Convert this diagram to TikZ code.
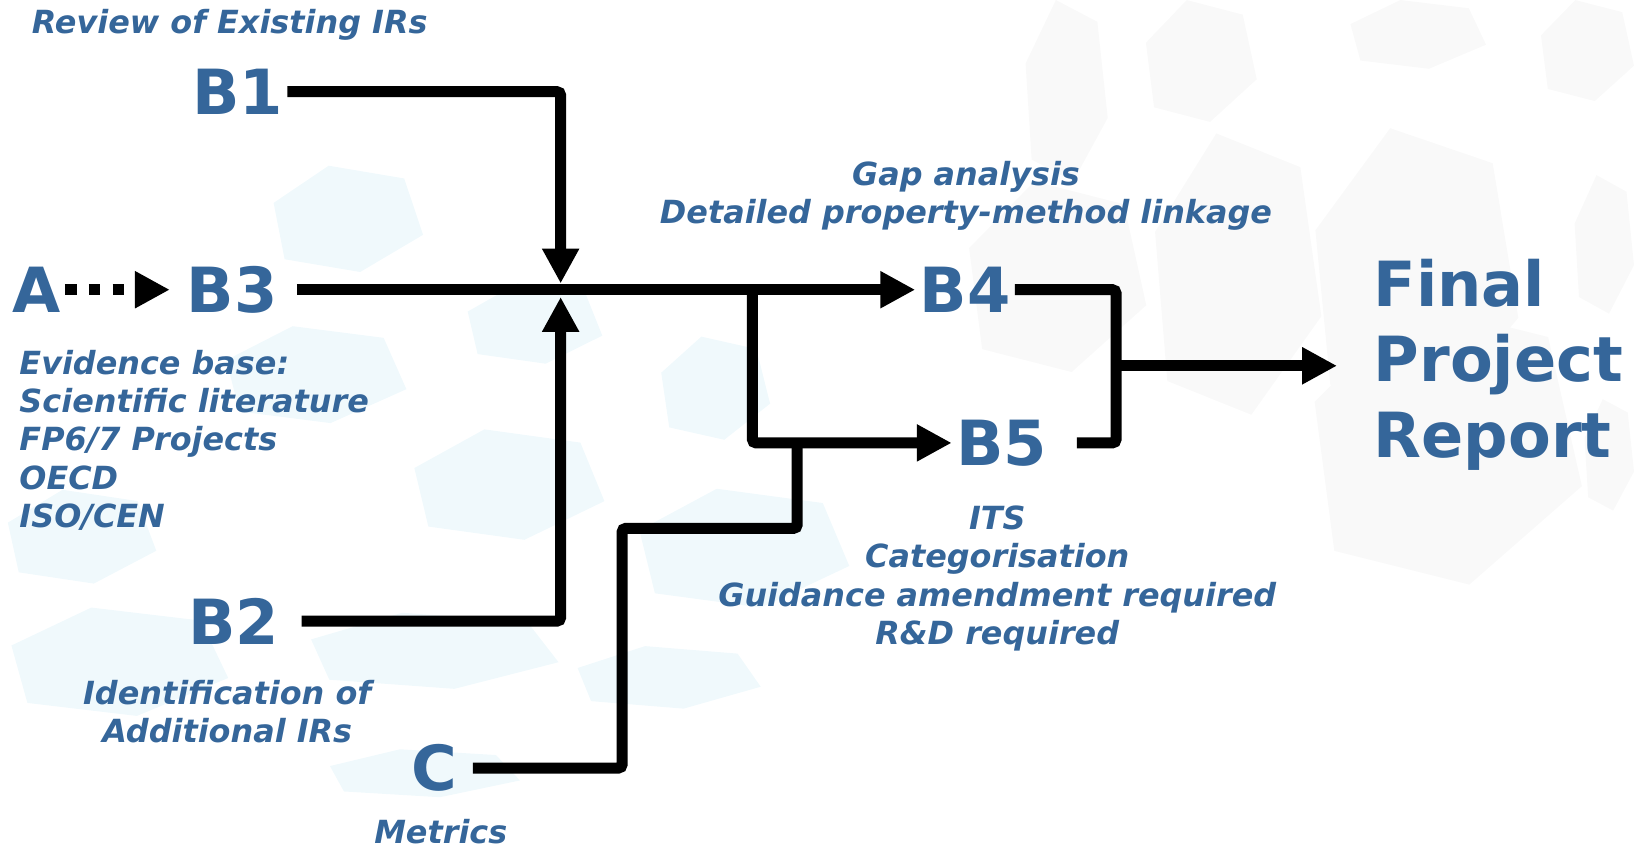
\documentclass[tikz,border=0pt]{standalone}
\usepackage{fontspec}
\setmainfont{DejaVu Sans}
\usetikzlibrary{arrows.meta}
\definecolor{irblue}{RGB}{53,102,154}
\definecolor{hexblue}{RGB}{240,249,252}
\definecolor{hexgrey}{RGB}{249,249,249}

\begin{document}
\begin{tikzpicture}[x=0.1mm, y=-0.1mm,
  big/.style={text=irblue, font=\fontsize{17}{20.6}\selectfont\bfseries, inner sep=1pt},
  lbl/.style={text=irblue, font=\fontsize{8.7}{10.5}\selectfont\bfseries\itshape, inner sep=0pt},
  ln/.style={line width=3pt, rounded corners=1pt},
  arr/.style={ln, -{Triangle[length=9.5pt, width=9.5pt]}},
  dotarr/.style={arr, dash pattern=on 3.2pt off 3.3pt},
  hexb/.style={fill=hexblue},
  hexg/.style={fill=hexgrey},
]
  \useasboundingbox (0,0) rectangle (1568,815);

  % faint hexagons behind
  \foreach \xa/\ya/\xb/\yb/\hs in {255/159/406/261/hexb, 208/313/390/406/hexb,
      388/412/580/518/hexb, 442/272/578/349/hexb, 0/583/219/687/hexb,
      0/470/150/560/hexb, 286/588/536/661/hexb, 545/620/730/680/hexb,
      629/323/739/422/hexb, 603/469/815/583/hexb, 307/719/499/765/hexb,
      980/0/1063/174/hexg, 1094/0/1206/117/hexg, 1289/0/1426/66/hexg,
      1474/0/1568/97/hexg, 1100/128/1268/398/hexg, 1252/123/1457/403/hexg,
      1508/168/1568/301/hexg, 921/174/1100/357/hexg, 1248/291/1518/561/hexg,
      1518/383/1568/490/hexg}
    \fill[\hs] ({\xa+0.05*(\xb-\xa)},{\ya+0.35*(\yb-\ya)}) -- ({\xa+0.4*(\xb-\xa)},\ya)
      -- ({\xb-0.12*(\xb-\xa)},{\ya+0.12*(\yb-\ya)}) -- (\xb,{\yb-0.35*(\yb-\ya)})
      -- ({\xb-0.4*(\xb-\xa)},\yb) -- ({\xa+0.12*(\xb-\xa)},{\yb-0.12*(\yb-\ya)}) -- cycle;

  \node[big] (A)  at (35,278)  {A};
  \node[big] (B3) at (223,278) {B3};
  \node[big] (B1) at (228,88)  {B1};
  \node[big] (B2) at (224,596) {B2};
  \node[big] (C)  at (417,737) {C};
  \node[big] (B4) at (926,278) {B4};
  \node[big] (B5) at (961,425) {B5};
  \node[big, align=left, anchor=west] (final) at (1314,350) {Final\\Project\\Report};

  \node[lbl, anchor=west] (rev) at (30,24) {Review of Existing IRs};
  \node[lbl, align=left, anchor=north west] (evid) at (18,335)
       {Evidence base:\\Scientific literature\\FP6/7 Projects\\OECD\\ISO/CEN};
  \node[lbl, align=center] (ident) at (218,683) {Identification of\\Additional IRs};
  \node[lbl] (metr) at (423,798) {Metrics};
  \node[lbl, align=center] (gap) at (927,188) {Gap analysis\\Detailed property-method linkage};
  \node[lbl, align=center] (its) at (957,555)
       {ITS\\Categorisation\\Guidance amendment required\\R\&D required};

  \coordinate (jt) at (538,272);
  \coordinate (jb) at (538,285);
  \coordinate (split) at (722,278);
  \coordinate (c1) at (597,507);
  \coordinate (c2) at (765,425);
  \coordinate (merge) at (1071,351);
  \coordinate (fin) at (1283,351);

  \draw[dotarr, shorten >=3.5pt] (A) -- (B3);
  \draw[arr] (B1.east) -| (jt);
  \draw[arr, shorten <=5pt] (B2.east) -| (jb);
  \draw[arr, shorten <=4pt] (B3.east) -- (B4.west);
  \draw[arr] (split) |- (B5.west);
  \draw[ln, shorten <=3pt] (C.east) -| (c1) -| (c2);
  \draw[ln, shorten >=7pt] (B4.east) -| (merge) |- (B5.east);
  \draw[arr] (merge) -- (fin);
\end{tikzpicture}
\end{document}
